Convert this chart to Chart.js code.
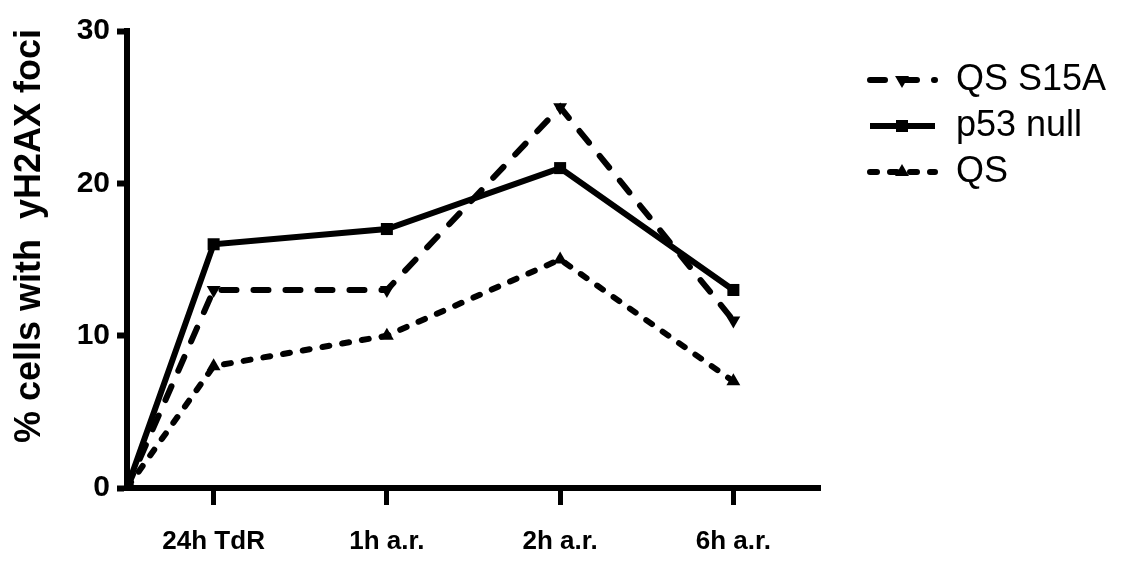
<!DOCTYPE html>
<html>
<head>
<meta charset="utf-8">
<script src="https://cdn.jsdelivr.net/npm/chart.js@4.4.1/dist/chart.umd.min.js"></script>
<style>
    html, body { margin: 0; padding: 0; background: #fff; }
    canvas { display: block; }
</style>
</head>
<body>
<canvas id="chart" width="1121" height="565"></canvas>
<script>
// x positions on a linear axis: origin, then the four time points
const X_POS      = [0, 1, 3, 5, 7];
const CATEGORIES = ['', '24h TdR', '1h a.r.', '2h a.r.', '6h a.r.'];
const Y_TICKS    = [0, 10, 20, 30];

const QS_S15A  = [0, 13, 13, 25, 11];
const P53_NULL = [0, 16, 17, 21, 13];
const QS       = [0, 8, 10, 15, 7];

const Y_TITLE = '% cells with  yH2AX foci';

const pts = arr => arr.map((v, i) => ({ x: X_POS[i], y: v }));

const base = {
    borderColor: '#000',
    backgroundColor: '#000',
    pointBackgroundColor: '#000',
    pointBorderColor: '#000',
    pointBorderWidth: 0,
    borderWidth: 6,
    tension: 0,
    fill: false,
};

const datasets = [
    { ...base, label: 'QS S15A',  data: pts(QS_S15A),  borderDash: [15, 17], borderCapStyle: 'round',
      pointStyle: 'triangle', pointRotation: 180, pointRadius: 8 },
    { ...base, label: 'p53 null', data: pts(P53_NULL), borderDash: [],
      pointStyle: 'rect', pointRadius: 8.5 },
    { ...base, label: 'QS',       data: pts(QS),       borderDash: [7, 13], borderCapStyle: 'round',
      pointStyle: 'triangle', pointRadius: 8 },
];

// legend drawn with the datasets' own line + marker styles
const legendPlugin = {
    id: 'prismLegend',
    afterDraw(chart) {
        const ctx = chart.ctx;
        const rows = [80, 126, 172];
        chart.data.datasets.forEach((ds, i) => {
            const y = rows[i];
            ctx.save();
            ctx.strokeStyle = ds.borderColor;
            ctx.lineWidth = ds.borderWidth;
            ctx.lineCap = ds.borderCapStyle || 'butt';
            ctx.setLineDash(ds.borderDash || []);
            ctx.beginPath();
            ctx.moveTo(870, y);
            ctx.lineTo(935, y);
            ctx.stroke();
            ctx.setLineDash([]);
            ctx.fillStyle = '#000';
            Chart.helpers.drawPoint(ctx, {
                pointStyle: ds.pointStyle, rotation: ds.pointRotation || 0,
                radius: ds.pointRadius, borderWidth: 0,
            }, 902, y);
            ctx.fillStyle = '#000';
            ctx.font = '36px "Liberation Sans", Arial, sans-serif';
            ctx.textBaseline = 'middle';
            ctx.textAlign = 'left';
            ctx.fillText(ds.label, 956, y);
            ctx.restore();
        });
    }
};

const yTitlePlugin = {
    id: 'yTitle',
    afterDraw(chart) {
        const ctx = chart.ctx;
        ctx.save();
        ctx.translate(30, 236);
        ctx.rotate(-Math.PI / 2);
        ctx.font = 'bold 36px "Liberation Sans", Arial, sans-serif';
        ctx.fillStyle = '#000';
        ctx.textAlign = 'center';
        ctx.textBaseline = 'middle';
        ctx.fillText(Y_TITLE, 0, 0);
        ctx.restore();
    }
};

new Chart(document.getElementById('chart').getContext('2d'), {
    type: 'line',
    data: { datasets },
    options: {
        responsive: false,
        animation: false,
        layout: { padding: { left: 0, top: 31, right: 301, bottom: 0 } },
        plugins: { legend: { display: false }, tooltip: { enabled: false } },
        scales: {
            x: {
                type: 'linear',
                min: 0, max: 8,
                afterFit: s => { s.height = 77; },
                afterBuildTicks: s => { s.ticks = X_POS.slice(1).map(v => ({ value: v })); },
                border: { display: true, color: '#000', width: 6 },
                grid: { display: true, drawOnChartArea: false, drawTicks: true,
                        tickLength: 17, tickWidth: 5, tickColor: '#000' },
                ticks: {
                    color: '#000', padding: 21, maxRotation: 0, autoSkip: false,
                    font: { family: '"Liberation Sans", Arial, sans-serif', size: 26, weight: 'bold' },
                    callback: v => CATEGORIES[X_POS.indexOf(v)] || '',
                },
            },
            y: {
                min: 0, max: 30,
                afterFit: s => { s.width = 127; },
                afterBuildTicks: s => { s.ticks = Y_TICKS.map(v => ({ value: v })); },
                border: { display: true, color: '#000', width: 6 },
                grid: { display: true, drawOnChartArea: false, drawTicks: true,
                        tickLength: 10, tickWidth: 6, tickColor: '#000' },
                ticks: {
                    color: '#000', padding: 7,
                    font: { family: '"Liberation Sans", Arial, sans-serif', size: 30, weight: 'bold' },
                },
            },
        },
    },
    plugins: [legendPlugin, yTitlePlugin],
});
</script>
</body>
</html>
